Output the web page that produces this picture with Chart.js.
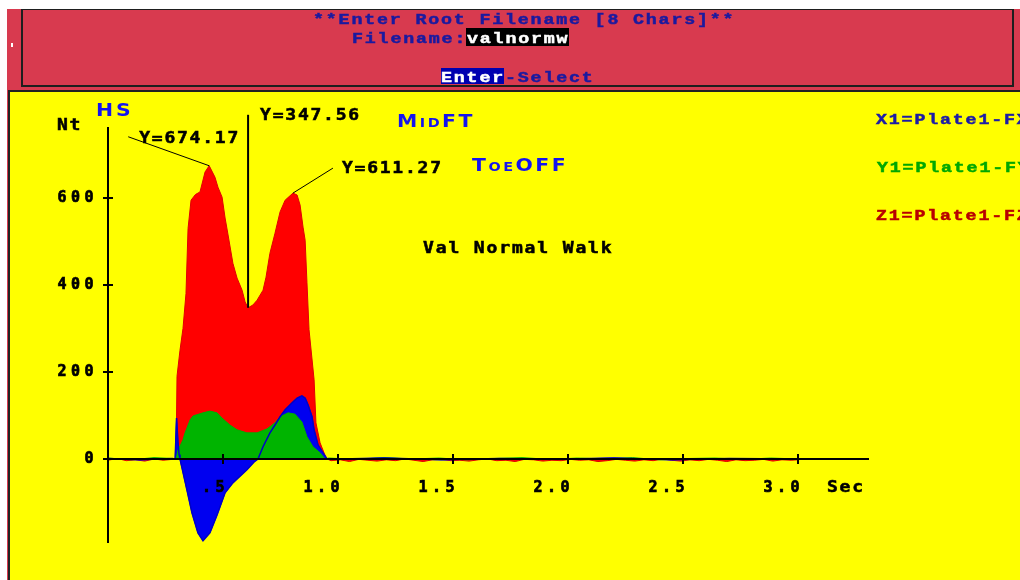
<!DOCTYPE html>
<html>
<head>
<meta charset="utf-8">
<script src="https://cdn.jsdelivr.net/npm/chart.js@4/dist/chart.umd.min.js"></script>
<style>
body { margin: 0; background: #fff; width: 1020px; height: 580px; overflow: hidden; position: relative; }
#hdr { position: absolute; left: 7px; top: 9px; width: 1013px; height: 571px; background: #d83a4f; }
#box { position: absolute; left: 21px; top: 9px; width: 989px; height: 75px; border: 2px solid #1e1e1e; border-top-width: 1px; }
#mark { position: absolute; left: 11px; top: 43px; width: 2px; height: 4px; background: #fff; }
#panel { position: absolute; left: 8px; top: 90px; width: 1012px; height: 490px; box-sizing: border-box;
         background: #ffff00; border-left: 2px solid #222; border-top: 2px solid #222; }
canvas { position: absolute; left: 0; top: 0; }
</style>
</head>
<body>
<div id="hdr"></div>
<div id="box"></div>
<div id="mark"></div>
<div id="panel"></div>
<canvas id="chart" width="1020" height="580"></canvas>
<script>
// axis ticks
const xTickVals = [0.5, 1.0, 1.5, 2.0, 2.5, 3.0];
const xTickLabels = [".5", "1.0", "1.5", "2.0", "2.5", "3.0"];
const yTickVals = [0, 200, 400, 600];
const yTickLabels = ["0", "200", "400", "600"];

const seriesNames = ["X1=Plate1-FX", "Y1=Plate1-FY", "Z1=Plate1-FZ"];

// Z1 (red) - time in sec, force in Nt
const redT = [0, 0.04, 0.08, 0.12, 0.16, 0.20, 0.24, 0.28,
    0.296, 0.300, 0.313, 0.326, 0.339, 0.348, 0.361, 0.38, 0.40, 0.422, 0.44, 0.465, 0.478, 0.496,
    0.509, 0.522, 0.543, 0.561, 0.583, 0.596, 0.609, 0.63, 0.648, 0.674, 0.687, 0.704, 0.726, 0.748,
    0.77, 0.791, 0.804, 0.822, 0.835, 0.848, 0.857, 0.865, 0.874, 0.896, 0.904, 0.922, 0.943, 0.952,
    0.97, 1.01, 1.05, 1.09, 1.13, 1.17, 1.21, 1.25, 1.29, 1.33,
    1.37, 1.41, 1.45, 1.49, 1.53, 1.57, 1.61, 1.65, 1.69, 1.73,
    1.77, 1.81, 1.85, 1.89, 1.93, 1.97, 2.01, 2.05, 2.09, 2.13,
    2.17, 2.21, 2.25, 2.29, 2.33, 2.37, 2.41, 2.45, 2.49, 2.53,
    2.57, 2.61, 2.65, 2.69, 2.73, 2.77, 2.81, 2.85, 2.89, 2.93,
    2.97, 3.00];
const redV = [-3, 1, -4, -2, -5, 0, -3, -1,
    0, 190, 250, 300, 380, 530, 595, 608, 614, 660, 674.17, 648, 625, 602,
    554, 515, 450, 416, 388, 361, 347.56, 354, 365, 388, 418, 473, 519, 568,
    595, 605, 611.27, 607, 584, 533, 503, 405, 297, 182, 83, 37, 9, 0,
    -4, -2, -6, -1, -3, -5, -2, -4, 0, -3,
    -6, -2, -1, -4, -3, -5, -2, 0, -4, -3,
    -6, -1, -2, -5, -3, -4, -1, -3, -2, -6,
    -4, -1, -3, -5, -2, -4, 0, -3, -5, -2,
    -4, -1, -3, -6, -2, -4, -3, -1, -5, -2,
    -3, -2];

// Y1 (green)
const greenT = [0, 0.1, 0.2, 0.28,
    0.296, 0.304, 0.326, 0.335, 0.357, 0.37, 0.413, 0.443, 0.474, 0.50, 0.53, 0.561,
    0.604, 0.648, 0.691, 0.726, 0.748, 0.783, 0.813, 0.843, 0.865, 0.891, 0.922, 0.943,
    0.96, 1.08, 1.2, 1.32, 1.44, 1.56, 1.68, 1.8, 1.92, 2.04, 2.16, 2.28, 2.4, 2.52, 2.64, 2.76, 2.88, 3.0];
const greenV = [2, -2, 3, 1,
    0, 20, 44, 60, 90, 99, 106, 110, 106, 92, 78, 67,
    60, 60, 69, 83, 97, 106, 103, 85, 51, 28, 14, 0,
    2, -1, 3, 0, 2, -2, 1, 3, -1, 2, 0, 3, -2, 1, 2, -1, 2, 0];

// X1 (blue)
const blueT = [0, 0.14, 0.28,
    0.292, 0.298, 0.304, 0.309, 0.313, 0.343, 0.365, 0.391, 0.413, 0.443, 0.474, 0.509, 0.543,
    0.604, 0.635, 0.652, 0.674, 0.704, 0.726, 0.748, 0.77, 0.80, 0.822, 0.843, 0.857, 0.87,
    0.887, 0.896, 0.913, 0.935, 0.952,
    0.97, 1.2, 1.45, 1.7, 1.95, 2.2, 2.45, 2.7, 3.0];
const blueV = [1, -2, 1,
    0, 94, 40, 10, 0, -71, -124, -170, -188, -170, -129, -78, -55,
    -25, -7, 0, 28, 60, 78, 97, 113, 129, 140, 145, 140, 124,
    97, 67, 32, 14, 0,
    -1, 2, -2, 1, -1, 2, -2, 1, 0];

// marked values
const annT = [0.44, 0.609, 0.804];
const annV = [674.17, 347.56, 611.27];
const annText = ["Y=674.17", "Y=347.56", "Y=611.27"];

const monoBold = { family: "DejaVu Sans Mono", size: 15, weight: "bold" };

function pts(ts, vs) {
    return ts.map((t, i) => ({ x: t, y: vs[i] }));
}

// text on a fixed character grid, glyphs stretched like the old screen font
function cells(ctx, s, x, y, font, color, cell, sx) {
    ctx.save();
    ctx.font = font;
    ctx.fillStyle = color;
    ctx.strokeStyle = color;
    ctx.lineWidth = 0.5;
    ctx.letterSpacing = "0px";
    ctx.textAlign = "left";
    ctx.textBaseline = "alphabetic";
    for (let i = 0; i < s.length; i++) {
        ctx.save();
        ctx.translate(x + i * cell, y);
        ctx.scale(sx, 1);
        ctx.fillText(s[i], 0, 0);
        ctx.strokeText(s[i], 0, 0);
        ctx.restore();
    }
    ctx.restore();
}

// small caps words like MidFT
function caps(ctx, parts, x, y, gap) {
    ctx.save();
    ctx.fillStyle = "#1414f0";
    ctx.letterSpacing = "0px";
    ctx.textAlign = "left";
    ctx.textBaseline = "alphabetic";
    parts.forEach(([s, size]) => {
        ctx.font = "bold " + size + "px 'DejaVu Sans'";
        for (const ch of s) {
            ctx.save();
            ctx.translate(x, y);
            ctx.scale(1.2, 1);
            ctx.fillText(ch, 0, 0);
            ctx.restore();
            x += ctx.measureText(ch).width * 1.2 + gap;
        }
    });
    ctx.restore();
}

const extras = {
    id: "extras",
    beforeDraw(chart) {
        chart.ctx.letterSpacing = "4.5px";
    },
    afterDraw(chart) {
        const ctx = chart.ctx;
        const xs = chart.scales.x;
        const ys = chart.scales.y;
        const x0 = xs.getPixelForValue(0);
        const y0 = ys.getPixelForValue(0);
        ctx.save();

        // tick marks crossing the axes
        ctx.strokeStyle = "#000";
        ctx.lineWidth = 2;
        ctx.beginPath();
        xTickVals.forEach(v => {
            const px = Math.round(xs.getPixelForValue(v));
            ctx.moveTo(px, y0 - 5);
            ctx.lineTo(px, y0 + 5);
        });
        yTickVals.forEach(v => {
            const py = Math.round(ys.getPixelForValue(v));
            ctx.moveTo(x0 - 5, py);
            ctx.lineTo(x0 + 5, py);
        });
        ctx.stroke();

        // value markers
        const p = annT.map((t, i) => [xs.getPixelForValue(t), ys.getPixelForValue(annV[i])]);
        ctx.lineWidth = 1;
        ctx.beginPath();
        ctx.moveTo(p[0][0], p[0][1]);
        ctx.lineTo(p[0][0] - 81, p[0][1] - 29);
        ctx.moveTo(p[2][0], p[2][1]);
        ctx.lineTo(p[2][0] + 40, p[2][1] - 25);
        ctx.stroke();
        ctx.lineWidth = 2;
        ctx.beginPath();
        ctx.moveTo(p[1][0], p[1][1]);
        ctx.lineTo(p[1][0], p[1][1] - 193);
        ctx.stroke();
        ctx.restore();

        const f = "bold 15px 'DejaVu Sans Mono'";
        cells(ctx, annText[0], p[0][0] - 70, p[0][1] - 23, f, "#000", 12.6, 1.2);
        cells(ctx, annText[1], p[1][0] + 12, p[1][1] - 188, f, "#000", 12.6, 1.2);
        cells(ctx, annText[2], p[2][0] + 49, p[2][1] - 20, f, "#000", 12.6, 1.2);

        cells(ctx, "Nt", 57, 130, f, "#000", 12.6, 1.2);
        cells(ctx, "Sec", 827, 492, f, "#000", 12.6, 1.2);
        cells(ctx, "Val Normal Walk", 423, 253, f, "#000", 12.7, 1.2);

        caps(ctx, [["HS", 17]], 96, 116, 3);
        caps(ctx, [["M", 17], ["ID", 12], ["FT", 17]], 397, 127, 2.5);
        caps(ctx, [["T", 17], ["OE", 12], ["OFF", 17]], 472, 171, 2.5);

        // legend
        const lf = "bold 15px 'Liberation Mono'";
        cells(ctx, seriesNames[0], 876, 124, lf, "#1c1ca8", 12.8, 1.22);
        cells(ctx, seriesNames[1], 877, 172, lf, "#00a800", 12.8, 1.22);
        cells(ctx, seriesNames[2], 876, 220, lf, "#b80000", 12.8, 1.22);

        // header
        const hc = "#1a1aa0";
        cells(ctx, "**Enter Root Filename [8 Chars]**", 313, 24, lf, hc, 12.8, 1.22);
        cells(ctx, "Filename:", 352, 43, lf, hc, 12.8, 1.22);
        ctx.fillStyle = "#000";
        ctx.fillRect(466, 28, 103, 18);
        cells(ctx, "valnormw", 467, 43, lf, "#fff", 12.8, 1.22);
        ctx.fillStyle = "#0000b0";
        ctx.fillRect(441, 68, 63, 16);
        cells(ctx, "Enter", 441, 82, lf, "#fff", 12.8, 1.22);
        cells(ctx, "-Select", 505, 82, lf, hc, 12.8, 1.22);
    }
};

const chart = new Chart(document.getElementById("chart"), {
    type: "line",
    data: {
        datasets: [{
            label: seriesNames[0] + " edge",
            data: pts(blueT, blueV),
            borderColor: "#0000c8",
            borderWidth: 1.5,
            fill: false,
            order: 0
        }, {
            label: seriesNames[1],
            data: pts(greenT, greenV),
            borderColor: "#00b000",
            backgroundColor: "#00b400",
            borderWidth: 1,
            fill: "origin",
            order: 1
        }, {
            label: seriesNames[0],
            data: pts(blueT, blueV),
            borderColor: "#0000f0",
            backgroundColor: "#0000f0",
            borderWidth: 1,
            fill: "origin",
            order: 2
        }, {
            label: seriesNames[2],
            data: pts(redT, redV),
            borderColor: "#e00000",
            backgroundColor: "#ff0000",
            borderWidth: 1,
            fill: "origin",
            order: 3
        }]
    },
    options: {
        responsive: false,
        animation: false,
        devicePixelRatio: 1,
        events: [],
        layout: { padding: { left: 0, top: 128, right: 152, bottom: 38 } },
        elements: { point: { radius: 0 }, line: { tension: 0 } },
        plugins: { legend: { display: false }, tooltip: { enabled: false } },
        scales: {
            x: {
                type: "linear",
                min: 0,
                max: 3.304,
                position: { y: 0 },
                afterBuildTicks: s => { s.ticks = xTickVals.map(v => ({ value: v })); },
                ticks: {
                    callback: (v, i) => xTickLabels[i],
                    align: "end",
                    labelOffset: 6,
                    padding: 20,
                    autoSkip: false,
                    maxRotation: 0,
                    color: "#000",
                    textStrokeColor: "#000",
                    textStrokeWidth: 0.7,
                    font: monoBold,
                    z: 1
                },
                grid: { display: false, drawTicks: false },
                border: { display: true, color: "#000", width: 2, z: 1 }
            },
            y: {
                type: "linear",
                min: -191,
                max: 761,
                position: "left",
                afterFit: s => { s.width = 108; },
                afterBuildTicks: s => { s.ticks = yTickVals.map(v => ({ value: v })); },
                ticks: {
                    callback: (v, i) => yTickLabels[i],
                    padding: 10,
                    color: "#000",
                    textStrokeColor: "#000",
                    textStrokeWidth: 0.7,
                    font: monoBold,
                    z: 1
                },
                grid: { display: false, drawTicks: false },
                border: { display: true, color: "#000", width: 2, z: 1 }
            }
        }
    },
    plugins: [extras]
});
</script>
</body>
</html>
